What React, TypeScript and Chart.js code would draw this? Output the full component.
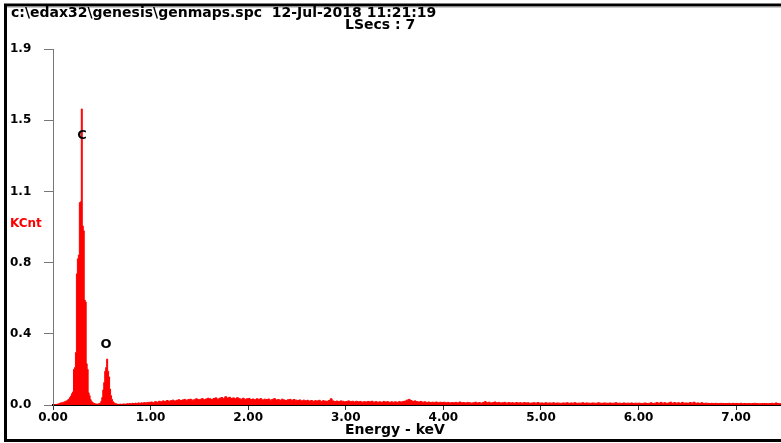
import { useEffect, useRef } from "react";
import { Chart, registerables } from "chart.js";

Chart.register(...registerables);

const titleLine1 = "c:\\edax32\\genesis\\genmaps.spc  12-Jul-2018 11:21:19";
const titleLine2 = "LSecs : 7";
const yAxisLabel = "KCnt";
const xAxisTitle = "Energy - keV";

const yTickValues = [0, 0.38, 0.76, 1.14, 1.52, 1.9];
const yTickLabels = ["0.0", "0.4", "0.8", "1.1", "1.5", "1.9"];
const xTickValues = [0, 1, 2, 3, 4, 5, 6, 7];
const xTickLabels = ["0.00", "1.00", "2.00", "3.00", "4.00", "5.00", "6.00", "7.00"];
const xMax = 7.46;
const yMax = 1.9;

const peakLabels = ["C", "O"];
const peakLabelEnergies = [0.297, 0.543];
const peakLabelHeights = [1.44, 0.32];

// channels 0.00 - 0.99 keV, 0.01 keV wide (KCnt)
const lowStart = 0;
const lowStep = 0.01;
const lowCounts = [
  0.000, 0.001, 0.002, 0.003, 0.004, 0.005,
  0.008, 0.010, 0.012, 0.010, 0.015,
  0.014, 0.020, 0.018, 0.024, 0.028, 0.032,
  0.040, 0.048, 0.060, 0.070,
  0.190, 0.200, 0.280,
  0.700, 0.780, 0.800,
  1.080, 1.085,
  1.580,
  0.955, 0.930,
  0.560, 0.550,
  0.220, 0.190,
  0.065, 0.050,
  0.030, 0.020, 0.014,
  0.010, 0.008, 0.006, 0.005, 0.004,
  0.006, 0.008, 0.010,
  0.020, 0.040, 0.080, 0.120, 0.180, 0.200, 0.245, 0.180, 0.150, 0.085, 0.050, 0.030, 0.018,
  0.012, 0.009, 0.007, 0.005,
  0.004, 0.003, 0.004, 0.005, 0.003, 0.004, 0.006, 0.005, 0.004, 0.006,
  0.007, 0.005, 0.008, 0.006, 0.007, 0.009, 0.008, 0.007, 0.010, 0.008,
  0.009, 0.011, 0.010, 0.008, 0.012, 0.010, 0.011, 0.013, 0.012, 0.010,
  0.014, 0.012, 0.015, 0.013,
];

// channels 1.00 - 7.46 keV, 0.02 keV wide (KCnt)
const highStart = 1.0;
const highStep = 0.02;
const highCounts = [
  0.016, 0.012, 0.018, 0.015, 0.020,
  0.017, 0.022, 0.019, 0.024, 0.020,
  0.023, 0.026, 0.021, 0.025, 0.028,
  0.024, 0.027, 0.030, 0.025, 0.029,
  0.031, 0.026, 0.028, 0.033, 0.029,
  0.030, 0.034, 0.028, 0.032, 0.036,
  0.033, 0.029, 0.035, 0.038, 0.031,
  0.036, 0.040, 0.034, 0.044, 0.037,
  0.041, 0.035, 0.038, 0.033, 0.039,
  0.034, 0.031, 0.036, 0.030, 0.033,
  0.035, 0.029, 0.032, 0.028, 0.033,
  0.030, 0.034, 0.027, 0.031, 0.029,
  0.032, 0.026, 0.030, 0.034, 0.027,
  0.029, 0.025, 0.031, 0.027, 0.024,
  0.028, 0.030, 0.025, 0.029, 0.026,
  0.024, 0.027, 0.022, 0.026, 0.023,
  0.025, 0.021, 0.024, 0.020, 0.023,
  0.022, 0.025, 0.019, 0.023, 0.021,
  0.020, 0.024, 0.033, 0.022, 0.019,
  0.021, 0.018, 0.022, 0.020, 0.017,
  0.019, 0.022, 0.018, 0.020, 0.016,
  0.020, 0.017, 0.019, 0.015, 0.018,
  0.016, 0.019, 0.017, 0.020, 0.015,
  0.018, 0.015, 0.017, 0.014, 0.019,
  0.016, 0.018, 0.014, 0.017, 0.015,
  0.017, 0.014, 0.018, 0.016, 0.019,
  0.021, 0.026, 0.030, 0.024, 0.019,
  0.022, 0.018, 0.016, 0.019, 0.015,
  0.017, 0.014, 0.016, 0.013, 0.015,
  0.014, 0.016, 0.012, 0.015, 0.013,
  0.015, 0.012, 0.014, 0.011, 0.013,
  0.012, 0.014, 0.011, 0.016, 0.012,
  0.013, 0.011, 0.014, 0.012, 0.010,
  0.012, 0.015, 0.011, 0.013, 0.010,
  0.014, 0.018, 0.012, 0.015, 0.011,
  0.013, 0.016, 0.012, 0.014, 0.011,
  0.012, 0.014, 0.010, 0.013, 0.011,
  0.012, 0.010, 0.013, 0.011, 0.012,
  0.010, 0.013, 0.011, 0.012, 0.009,
  0.011, 0.012, 0.010, 0.013, 0.010,
  0.011, 0.009, 0.012, 0.010, 0.011,
  0.010, 0.012, 0.009, 0.011, 0.010,
  0.009, 0.011, 0.010, 0.012, 0.009,
  0.011, 0.010, 0.012, 0.009, 0.010,
  0.010, 0.012, 0.009, 0.011, 0.010,
  0.009, 0.011, 0.010, 0.009, 0.012,
  0.010, 0.009, 0.011, 0.010, 0.009,
  0.011, 0.009, 0.010, 0.012, 0.009,
  0.010, 0.008, 0.011, 0.009, 0.010,
  0.009, 0.011, 0.008, 0.010, 0.009,
  0.010, 0.008, 0.009, 0.011, 0.008,
  0.009, 0.012, 0.008, 0.010, 0.013,
  0.009, 0.014, 0.010, 0.012, 0.009,
  0.011, 0.015, 0.009, 0.013, 0.010,
  0.012, 0.009, 0.014, 0.010, 0.011,
  0.009, 0.013, 0.010, 0.015, 0.009,
  0.011, 0.009, 0.012, 0.008, 0.010,
  0.009, 0.008, 0.009, 0.008, 0.009,
  0.008, 0.008, 0.009, 0.008, 0.008,
  0.008, 0.009, 0.007, 0.009, 0.008,
  0.008, 0.007, 0.009, 0.007, 0.008,
  0.007, 0.008, 0.007, 0.008, 0.009,
  0.008, 0.007, 0.007, 0.008, 0.008,
  0.008, 0.007, 0.008, 0.009, 0.007,
  0.011, 0.008, 0.007,
];

const FONT = "'DejaVu Sans', Verdana, sans-serif";

export default function App() {
  const canvasRef = useRef<HTMLCanvasElement | null>(null);

  useEffect(() => {
    const canvas = canvasRef.current;
    if (!canvas) return;

    const points: { x: number; y: number }[] = [];
    lowCounts.forEach((v, i) => points.push({ x: lowStart + i * lowStep, y: v }));
    highCounts.forEach((v, i) => points.push({ x: highStart + i * highStep, y: v }));
    points.push({ x: highStart + highCounts.length * highStep, y: highCounts[highCounts.length - 1] });

    const overlay = {
      id: "edaxOverlay",
      afterDraw(chart: any) {
        const ctx = chart.ctx as CanvasRenderingContext2D;
        const xs = chart.scales.x;
        const ys = chart.scales.y;
        ctx.save();
        // frame
        ctx.strokeStyle = "#000";
        ctx.lineWidth = 3;
        ctx.beginPath();
        ctx.moveTo(790, 5);
        ctx.lineTo(5.5, 5);
        ctx.lineTo(5.5, 440.5);
        ctx.lineTo(790, 440.5);
        ctx.stroke();
        ctx.strokeStyle = "#999";
        ctx.lineWidth = 1;
        ctx.beginPath();
        ctx.moveTo(7, 7);
        ctx.lineTo(790, 7);
        ctx.stroke();
        // title
        ctx.fillStyle = "#000";
        ctx.font = `bold 14px ${FONT}`;
        ctx.textAlign = "left";
        ctx.textBaseline = "middle";
        ctx.fillText(titleLine1, 11, 13);
        ctx.fillText(titleLine2, 345, 25);
        // x axis title
        ctx.textAlign = "center";
        ctx.fillText(xAxisTitle, 395, 430);
        // y label
        ctx.textAlign = "left";
        ctx.fillStyle = "#ff0000";
        ctx.font = `bold 12px ${FONT}`;
        ctx.fillText(yAxisLabel, 10, 224);
        // peak labels
        ctx.fillStyle = "#000";
        ctx.font = `bold 13px ${FONT}`;
        ctx.textAlign = "center";
        peakLabels.forEach((t, i) => {
          ctx.fillText(t, xs.getPixelForValue(peakLabelEnergies[i]), ys.getPixelForValue(peakLabelHeights[i]));
        });
        ctx.restore();
      },
    };

    const chart = new Chart(canvas, {
      type: "line",
      data: {
        datasets: [
          {
            data: points,
            parsing: false,
            stepped: "before",
            fill: "origin",
            backgroundColor: "#ff0000",
            borderColor: "#ff0000",
            borderWidth: 1,
            pointRadius: 0,
          } as any,
        ],
      },
      options: {
        responsive: false,
        animation: false,
        events: [],
        layout: { padding: { left: 10, top: 49, right: 0, bottom: 0 } },
        plugins: { legend: { display: false }, tooltip: { enabled: false } },
        scales: {
          x: {
            type: "linear",
            min: 0,
            max: xMax,
            z: 1,
            afterBuildTicks: (s: any) => {
              s.ticks = xTickValues.map((v) => ({ value: v }));
            },
            afterFit: (s: any) => {
              s.height = 38;
            },
            ticks: {
              callback: (_v: any, i: number) => xTickLabels[i],
              font: { family: FONT, weight: "bold", size: 12 },
              color: "#000",
              maxRotation: 0,
              autoSkip: false,
              padding: 1,
            },
            grid: { drawOnChartArea: false, drawTicks: true, tickLength: 5, color: "#333" },
            border: { color: "#000", width: 2 },
            title: { display: false },
          },
          y: {
            min: 0,
            max: yMax,
            z: 1,
            afterBuildTicks: (s: any) => {
              s.ticks = yTickValues.map((v) => ({ value: v }));
            },
            afterFit: (s: any) => {
              s.width = 43;
            },
            ticks: {
              callback: (_v: any, i: number) => yTickLabels[i],
              crossAlign: "far",
              font: { family: FONT, weight: "bold", size: 12 },
              color: "#000",
              padding: 2,
            },
            grid: { drawOnChartArea: false, drawTicks: true, tickLength: 9, color: "#777" },
            border: { color: "#777", width: 1 },
          },
        },
      } as any,
      plugins: [overlay],
    });

    return () => chart.destroy();
  }, []);

  return (
    <div style={{ position: "fixed", left: 0, top: 0, width: 781, height: 443, background: "#fff" }}>
      <canvas ref={canvasRef} width={781} height={443} style={{ display: "block" }} />
    </div>
  );
}
